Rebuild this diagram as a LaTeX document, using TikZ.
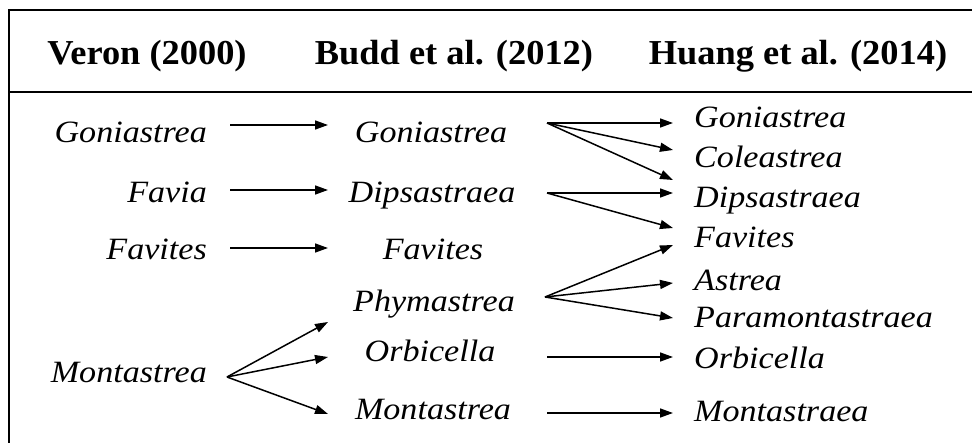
\documentclass[tikz,border=0pt]{standalone}
\usepackage{fontspec}
\setmainfont{Liberation Serif}
\newfontfamily\hdfont{Liberation Serif}[FakeStretch=1.04]
\newfontfamily\txfont{Liberation Serif}[FakeStretch=1.1]
\usetikzlibrary{arrows.meta}
\begin{document}
\begin{tikzpicture}[x=1pt,y=-1pt,
  hd/.style={font=\hdfont\bfseries\fontsize{35}{40}\selectfont, inner sep=0pt, anchor=base},
  tx/.style={font=\txfont\itshape\fontsize{31}{36}\selectfont, inner sep=0pt},
  arr/.style={line width=1.5pt, -{Triangle[length=13pt,width=9pt]}},
  rule/.style={line width=1.8pt}]
\useasboundingbox (0,0) rectangle (972,443);
% frame
\coordinate (tl) at (9,10);
\coordinate (tr) at (972,10);
\coordinate (bl) at (9,443);
\coordinate (sl) at (9,92);
\coordinate (sr) at (972,92);
\draw[rule] (tr) -- (tl) -- (bl);
\draw[rule] (sl) -- (sr);
% headers
\node[hd] (h1) at (147,65) {Veron (2000)};
\node[hd] (h2) at (454,65) {Budd et al. (2012)};
\node[hd] (h3) at (798,65) {Huang et al. (2014)};
% column 1
\node[tx, anchor=base east] (a1) at (207,143) {Goniastrea};
\node[tx, anchor=base east] (a2) at (207,203) {Favia};
\node[tx, anchor=base east] (a3) at (207,260) {Favites};
\node[tx, anchor=base east] (a4) at (207,383) {Montastrea};
% column 2
\node[tx, anchor=base] (b1) at (431,143) {Goniastrea};
\node[tx, anchor=base] (b2) at (432,203) {Dipsastraea};
\node[tx, anchor=base] (b3) at (433,260) {Favites};
\node[tx, anchor=base] (b4) at (434,312) {Phymastrea};
\node[tx, anchor=base] (b5) at (430,362) {Orbicella};
\node[tx, anchor=base] (b6) at (433,420) {Montastrea};
% column 3
\node[tx, anchor=base west] (c1) at (694,128) {Goniastrea};
\node[tx, anchor=base west] (c2) at (694,168) {Coleastrea};
\node[tx, anchor=base west] (c3) at (694,208) {Dipsastraea};
\node[tx, anchor=base west] (c4) at (694,248) {Favites};
\node[tx, anchor=base west] (c5) at (694,291) {Astrea};
\node[tx, anchor=base west] (c6) at (694,328) {Paramontastraea};
\node[tx, anchor=base west] (c7) at (694,369) {Orbicella};
\node[tx, anchor=base west] (c8) at (694,422) {Montastraea};
% arrow ports
\coordinate (a1o) at (230,125); \coordinate (b1i) at (328,125);
\coordinate (a2o) at (230,190); \coordinate (b2i) at (328,190);
\coordinate (a3o) at (230,248); \coordinate (b3i) at (328,248);
\coordinate (a4o) at (227,377);
\coordinate (b4i) at (328,322); \coordinate (b5i) at (328,357); \coordinate (b6i) at (328,414);
\coordinate (b1o) at (547,123);
\coordinate (b2o) at (547,193);
\coordinate (b4o) at (545,297);
\coordinate (b5o) at (547,357);
\coordinate (b6o) at (547,413);
\coordinate (c1i) at (673,123);
\coordinate (c2i) at (673,150);
\coordinate (c3i) at (673,180);
\coordinate (c3j) at (673,193);
\coordinate (c4i) at (673,228);
\coordinate (c4j) at (673,245);
\coordinate (c5i) at (673,283);
\coordinate (c6i) at (673,318);
\coordinate (c7i) at (673,357);
\coordinate (c8i) at (673,413);
% arrows col1 -> col2
\draw[arr] (a1o) -- (b1i);
\draw[arr] (a2o) -- (b2i);
\draw[arr] (a3o) -- (b3i);
\draw[arr] (a4o) -- (b4i);
\draw[arr] (a4o) -- (b5i);
\draw[arr] (a4o) -- (b6i);
% arrows col2 -> col3
\draw[arr] (b1o) -- (c1i);
\draw[arr] (b1o) -- (c2i);
\draw[arr] (b1o) -- (c3i);
\draw[arr] (b2o) -- (c3j);
\draw[arr] (b2o) -- (c4i);
\draw[arr] (b4o) -- (c4j);
\draw[arr] (b4o) -- (c5i);
\draw[arr] (b4o) -- (c6i);
\draw[arr] (b5o) -- (c7i);
\draw[arr] (b6o) -- (c8i);
\end{tikzpicture}
\end{document}
